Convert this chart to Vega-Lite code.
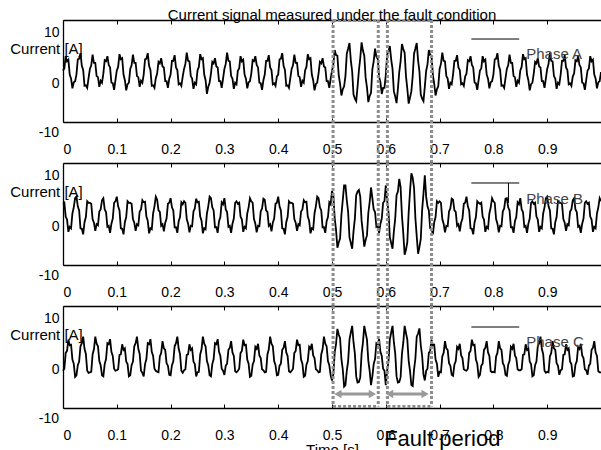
{
"$schema":"https://vega.github.io/schema/vega-lite/v6.json",
"padding":{"left":9,"top":7,"right":0,"bottom":0},
"background":"white",
"bounds":"flush",
"spacing":41,
"config":{"view":{"stroke":null},"font":"Liberation Sans",
"axis":{"grid":false,"domainColor":"black","domainWidth":1.3,"tickColor":"black","tickWidth":1,"labelColor":"black","labelFontSize":14,"labelFont":"Liberation Sans","titleFont":"Liberation Sans","titleColor":"black","titleFontWeight":"normal","titleFontSize":15}},
"datasets":{
"vl":[{"x":0.502},{"x":0.586},{"x":0.603},{"x":0.685}],
"hl":[{"x":0.502,"x2":0.586},{"x":0.603,"x2":0.685}],
"arr":[{"x":0.511,"x2":0.575},{"x":0.607,"x2":0.673}],
"heads":[{"x":0.511,"s":"triangle-left"},{"x":0.575,"s":"triangle-right"},{"x":0.607,"s":"triangle-left"},{"x":0.673,"s":"triangle-right"}],
"neg":[{"x":0,"v":-10,"label":"-10"}],
"sig":[
{"t":0,"a":2.6,"b":4.5,"c":-0.2},{"t":0.0025,"a":3.0,"b":4.7,"c":0.2},{"t":0.005,"a":5.4,"b":2.0,"c":3.3},{"t":0.0075,"a":4.4,"b":1.4,"c":3.7},{"t":0.01,"a":4.7,"b":-1.0,"c":5.9},{"t":0.0125,"a":1.8,"b":0.0,"c":4.8},{"t":0.015,"a":1.0,"b":-0.3,"c":4.9},{"t":0.0175,"a":-0.9,"b":2.6,"c":2.0},{"t":0.02,"a":0.3,"b":3.8,"c":1.2},{"t":0.0225,"a":0.5,"b":5.6,"c":-1.4},
{"t":0.025,"a":1.8,"b":5.9,"c":-1.1},{"t":0.0275,"a":4.8,"b":4.0,"c":0.9},{"t":0.03,"a":4.9,"b":3.2,"c":1.6},{"t":0.0325,"a":6.0,"b":-0.3,"c":4.6},{"t":0.035,"a":3.5,"b":-0.4,"c":5.2},{"t":0.0375,"a":2.7,"b":-1.5,"c":6.5},{"t":0.04,"a":-0.4,"b":0.9,"c":4.1},{"t":0.0425,"a":-0.3,"b":1.9,"c":3.1},{"t":0.045,"a":-0.8,"b":5.0,"c":-0.2},{"t":0.0475,"a":1.1,"b":4.7,"c":-0.6},
{"t":0.05,"a":2.9,"b":4.7,"c":-0.5},{"t":0.0525,"a":3.6,"b":4.5,"c":-0.4},{"t":0.055,"a":5.7,"b":1.5,"c":3.0},{"t":0.0575,"a":4.1,"b":0.8,"c":4.0},{"t":0.06,"a":4.1,"b":-0.8,"c":6.5},{"t":0.0625,"a":1.5,"b":0.5,"c":5.1},{"t":0.065,"a":1.3,"b":0.3,"c":4.6},{"t":0.0675,"a":-0.6,"b":3.0,"c":1.7},{"t":0.07,"a":0.6,"b":3.4,"c":0.9},{"t":0.0725,"a":0.2,"b":5.2,"c":-1.1},
{"t":0.075,"a":2.0,"b":5.6,"c":-1.3},{"t":0.0775,"a":4.6,"b":3.4,"c":1.1},{"t":0.08,"a":4.4,"b":2.9,"c":2.1},{"t":0.0825,"a":5.4,"b":0.0,"c":5.2},{"t":0.085,"a":3.7,"b":0.2,"c":5.0},{"t":0.0875,"a":3.2,"b":-1.2,"c":6.0},{"t":0.09,"a":0.2,"b":0.6,"c":3.5},{"t":0.0925,"a":0.1,"b":1.6,"c":2.7},{"t":0.095,"a":-1.2,"b":4.7,"c":0.2},{"t":0.0975,"a":0.7,"b":5.0,"c":-0.2},
{"t":0.1,"a":2.6,"b":5.9,"c":-0.1},{"t":0.1025,"a":3.3,"b":4.0,"c":0.1},{"t":0.105,"a":5.8,"b":3.2,"c":2.9},{"t":0.1075,"a":4.8,"b":-0.3,"c":3.0},{"t":0.11,"a":5.0,"b":-0.4,"c":5.0},{"t":0.1125,"a":1.8,"b":-1.5,"c":3.9},{"t":0.115,"a":0.7,"b":0.9,"c":4.2},{"t":0.1175,"a":-1.3,"b":1.9,"c":1.6},{"t":0.12,"a":-0.1,"b":5.0,"c":1.1},{"t":0.1225,"a":0.2,"b":4.7,"c":-1.3},
{"t":0.125,"a":2.9,"b":4.7,"c":-1.1},{"t":0.1275,"a":3.6,"b":4.5,"c":0.9},{"t":0.13,"a":5.7,"b":1.5,"c":1.6},{"t":0.1325,"a":4.1,"b":0.8,"c":4.6},{"t":0.135,"a":4.1,"b":-0.8,"c":5.2},{"t":0.1375,"a":1.5,"b":0.5,"c":6.5},{"t":0.14,"a":1.3,"b":0.3,"c":4.1},{"t":0.1425,"a":-0.6,"b":3.0,"c":3.1},{"t":0.145,"a":0.6,"b":3.4,"c":-0.2},{"t":0.1475,"a":0.2,"b":5.2,"c":-0.6},
{"t":0.15,"a":1.8,"b":4.8,"c":-1.3},{"t":0.1525,"a":4.8,"b":4.9,"c":1.1},{"t":0.155,"a":4.9,"b":2.0,"c":2.1},{"t":0.1575,"a":6.0,"b":1.2,"c":5.2},{"t":0.16,"a":3.5,"b":-1.3,"c":5.0},{"t":0.1625,"a":2.7,"b":-0.3,"c":6.0},{"t":0.165,"a":-0.4,"b":-0.5,"c":3.5},{"t":0.1675,"a":-0.3,"b":2.6,"c":2.7},{"t":0.17,"a":-0.8,"b":4.0,"c":0.2},{"t":0.1725,"a":1.1,"b":5.9,"c":-0.2},
{"t":0.175,"a":2.0,"b":5.3,"c":-0.4},{"t":0.1775,"a":4.3,"b":3.2,"c":-0.5},{"t":0.18,"a":4.0,"b":2.9,"c":2.6},{"t":0.1825,"a":5.0,"b":0.2,"c":3.3},{"t":0.185,"a":3.4,"b":0.5,"c":5.6},{"t":0.1875,"a":3.2,"b":-0.9,"c":4.2},{"t":0.19,"a":0.5,"b":0.8,"c":3.9},{"t":0.1925,"a":0.5,"b":1.6,"c":1.3},{"t":0.195,"a":-0.8,"b":4.5,"c":0.8},{"t":0.1975,"a":1.0,"b":4.7,"c":-1.0},
{"t":0.2,"a":1.8,"b":5.6,"c":-1.1},{"t":0.2025,"a":4.5,"b":3.8,"c":0.9},{"t":0.205,"a":4.5,"b":3.2,"c":1.6},{"t":0.2075,"a":5.6,"b":-0.1,"c":4.6},{"t":0.21,"a":3.2,"b":-0.1,"c":5.2},{"t":0.2125,"a":2.7,"b":-1.2,"c":6.5},{"t":0.215,"a":-0.1,"b":1.1,"c":4.1},{"t":0.2175,"a":0.1,"b":1.9,"c":3.1},{"t":0.22,"a":-0.4,"b":4.8,"c":-0.2},{"t":0.2225,"a":1.4,"b":4.4,"c":-0.6},
{"t":0.225,"a":2.9,"b":5.0,"c":-0.1},{"t":0.2275,"a":3.9,"b":4.7,"c":0.1},{"t":0.23,"a":6.1,"b":1.5,"c":2.9},{"t":0.2325,"a":4.5,"b":0.6,"c":3.0},{"t":0.235,"a":4.4,"b":-1.1,"c":5.0},{"t":0.2375,"a":1.5,"b":0.2,"c":3.9},{"t":0.24,"a":1.0,"b":0.1,"c":4.2},{"t":0.2425,"a":-1.0,"b":3.0,"c":1.6},{"t":0.245,"a":0.2,"b":3.6,"c":1.1},{"t":0.2475,"a":-0.1,"b":5.5,"c":-1.3},
{"t":0.25,"a":2.6,"b":4.8,"c":-0.5},{"t":0.2525,"a":3.3,"b":4.9,"c":-0.4},{"t":0.255,"a":5.8,"b":2.0,"c":3.0},{"t":0.2575,"a":4.8,"b":1.2,"c":4.0},{"t":0.26,"a":5.0,"b":-1.3,"c":6.5},{"t":0.2625,"a":1.8,"b":-0.3,"c":5.1},{"t":0.265,"a":0.7,"b":-0.5,"c":4.6},{"t":0.2675,"a":-2.0,"b":2.6,"c":1.7},{"t":0.27,"a":-0.6,"b":4.0,"c":0.9},{"t":0.2725,"a":0.2,"b":5.9,"c":-1.1},
{"t":0.275,"a":2.0,"b":5.6,"c":-1.3},{"t":0.2775,"a":4.3,"b":3.8,"c":1.1},{"t":0.28,"a":4.0,"b":3.2,"c":2.1},{"t":0.2825,"a":5.0,"b":-0.1,"c":5.2},{"t":0.285,"a":3.4,"b":-0.1,"c":5.0},{"t":0.2875,"a":3.2,"b":-1.2,"c":6.0},{"t":0.29,"a":0.5,"b":1.1,"c":3.5},{"t":0.2925,"a":0.5,"b":1.9,"c":2.7},{"t":0.295,"a":-0.8,"b":4.8,"c":0.2},{"t":0.2975,"a":1.0,"b":4.4,"c":-0.2},
{"t":0.3,"a":2.9,"b":5.6,"c":-1.0},{"t":0.3025,"a":3.9,"b":3.4,"c":0.8},{"t":0.305,"a":6.1,"b":2.9,"c":1.2},{"t":0.3075,"a":4.5,"b":0.0,"c":3.9},{"t":0.31,"a":4.4,"b":0.2,"c":4.3},{"t":0.3125,"a":1.5,"b":-1.2,"c":5.6},{"t":0.315,"a":1.0,"b":0.6,"c":3.4},{"t":0.3175,"a":-1.0,"b":1.6,"c":2.7},{"t":0.32,"a":0.2,"b":4.7,"c":-0.3},{"t":0.3225,"a":-0.1,"b":5.0,"c":-0.5},
{"t":0.325,"a":2.6,"b":4.5,"c":-0.2},{"t":0.3275,"a":3.0,"b":4.7,"c":0.2},{"t":0.33,"a":5.4,"b":2.0,"c":3.3},{"t":0.3325,"a":4.4,"b":1.4,"c":3.7},{"t":0.335,"a":4.7,"b":-1.0,"c":5.9},{"t":0.3375,"a":1.8,"b":0.0,"c":4.8},{"t":0.34,"a":1.0,"b":-0.3,"c":4.9},{"t":0.3425,"a":-0.9,"b":2.6,"c":2.0},{"t":0.345,"a":0.3,"b":3.8,"c":1.2},{"t":0.3475,"a":0.5,"b":5.6,"c":-1.4},
{"t":0.35,"a":2.0,"b":5.0,"c":-1.2},{"t":0.3525,"a":4.6,"b":4.7,"c":1.0},{"t":0.355,"a":4.4,"b":1.5,"c":1.7},{"t":0.3575,"a":5.4,"b":0.6,"c":4.5},{"t":0.36,"a":3.7,"b":-1.1,"c":4.1},{"t":0.3625,"a":3.2,"b":0.2,"c":5.1},{"t":0.365,"a":0.2,"b":0.1,"c":2.8},{"t":0.3675,"a":0.1,"b":3.0,"c":2.3},{"t":0.37,"a":-1.2,"b":3.6,"c":0.1},{"t":0.3725,"a":0.7,"b":5.5,"c":-0.1},
{"t":0.375,"a":1.8,"b":5.3,"c":-0.5},{"t":0.3775,"a":4.5,"b":3.2,"c":-0.4},{"t":0.38,"a":4.5,"b":2.9,"c":3.0},{"t":0.3825,"a":5.6,"b":0.2,"c":4.0},{"t":0.385,"a":3.2,"b":0.5,"c":6.5},{"t":0.3875,"a":2.7,"b":-0.9,"c":5.1},{"t":0.39,"a":-0.1,"b":0.8,"c":4.6},{"t":0.3925,"a":0.1,"b":1.6,"c":1.7},{"t":0.395,"a":-0.4,"b":4.5,"c":0.9},{"t":0.3975,"a":1.4,"b":4.7,"c":-1.1},
{"t":0.4,"a":1.8,"b":5.9,"c":-1.0},{"t":0.4025,"a":4.8,"b":4.0,"c":0.8},{"t":0.405,"a":4.9,"b":3.2,"c":1.2},{"t":0.4075,"a":6.0,"b":-0.3,"c":3.9},{"t":0.41,"a":3.5,"b":-0.4,"c":4.3},{"t":0.4125,"a":2.7,"b":-1.5,"c":5.6},{"t":0.415,"a":-0.4,"b":0.9,"c":3.4},{"t":0.4175,"a":-0.3,"b":1.9,"c":2.7},{"t":0.42,"a":-0.8,"b":5.0,"c":-0.3},{"t":0.4225,"a":1.1,"b":4.7,"c":-0.5},
{"t":0.425,"a":2.9,"b":4.7,"c":-0.2},{"t":0.4275,"a":3.6,"b":4.5,"c":0.2},{"t":0.43,"a":5.7,"b":1.5,"c":3.3},{"t":0.4325,"a":4.1,"b":0.8,"c":3.7},{"t":0.435,"a":4.1,"b":-0.8,"c":5.9},{"t":0.4375,"a":1.5,"b":0.5,"c":4.8},{"t":0.44,"a":1.3,"b":0.3,"c":4.9},{"t":0.4425,"a":-0.6,"b":3.0,"c":2.0},{"t":0.445,"a":0.6,"b":3.4,"c":1.2},{"t":0.4475,"a":0.2,"b":5.2,"c":-1.4},
{"t":0.45,"a":2.6,"b":4.8,"c":-1.2},{"t":0.4525,"a":3.3,"b":4.9,"c":1.0},{"t":0.455,"a":5.8,"b":2.0,"c":1.7},{"t":0.4575,"a":4.8,"b":1.2,"c":4.5},{"t":0.46,"a":5.0,"b":-1.3,"c":4.1},{"t":0.4625,"a":1.8,"b":-0.3,"c":5.1},{"t":0.465,"a":0.7,"b":-0.5,"c":2.8},{"t":0.4675,"a":-1.3,"b":2.6,"c":2.3},{"t":0.47,"a":-0.1,"b":4.0,"c":0.1},{"t":0.4725,"a":0.2,"b":5.9,"c":-0.1},
{"t":0.475,"a":2.0,"b":5.6,"c":-0.5},{"t":0.4775,"a":4.3,"b":3.8,"c":-0.4},{"t":0.48,"a":4.0,"b":3.2,"c":3.0},{"t":0.4825,"a":5.0,"b":-0.1,"c":4.0},{"t":0.485,"a":3.4,"b":-0.1,"c":6.5},{"t":0.4875,"a":3.2,"b":-1.2,"c":5.1},{"t":0.49,"a":0.5,"b":1.1,"c":4.6},{"t":0.4925,"a":0.5,"b":1.9,"c":1.7},{"t":0.495,"a":-0.8,"b":4.8,"c":0.9},{"t":0.4975,"a":1.0,"b":4.4,"c":-1.1},
{"t":0.5,"a":2.5,"b":7.0,"c":-2.1},{"t":0.5025,"a":3.8,"b":6.1,"c":-0.9},{"t":0.505,"a":6.6,"b":1.7,"c":3.4},{"t":0.5075,"a":5.6,"b":-0.6,"c":5.0},{"t":0.51,"a":5.5,"b":-4.1,"c":8.0},{"t":0.5125,"a":1.7,"b":-3.1,"c":6.9},{"t":0.515,"a":0.0,"b":-2.3,"c":6.2},{"t":0.5175,"a":-2.3,"b":2.3,"c":2.1},{"t":0.52,"a":-1.1,"b":5.2,"c":0.1},{"t":0.5225,"a":-0.5,"b":8.1,"c":-3.3},
{"t":0.525,"a":1.5,"b":8.1,"c":-3.0},{"t":0.5275,"a":5.9,"b":5.2,"c":-0.2},{"t":0.53,"a":6.9,"b":2.9,"c":1.7},{"t":0.5325,"a":8.0,"b":-2.1,"c":5.9},{"t":0.535,"a":4.6,"b":-3.2,"c":7.3},{"t":0.5375,"a":2.4,"b":-4.3,"c":8.6},{"t":0.54,"a":-2.1,"b":-0.9,"c":5.4},{"t":0.5425,"a":-2.9,"b":1.6,"c":3.2},{"t":0.545,"a":-3.4,"b":6.2,"c":-1.3},{"t":0.5475,"a":-0.6,"b":6.9,"c":-2.5},
{"t":0.55,"a":2.6,"b":7.2,"c":-2.4},{"t":0.5525,"a":5.0,"b":5.9,"c":-1.5},{"t":0.555,"a":8.1,"b":1.2,"c":3.1},{"t":0.5575,"a":6.5,"b":-1.2,"c":5.3},{"t":0.56,"a":5.5,"b":-3.9,"c":8.6},{"t":0.5625,"a":1.2,"b":-2.6,"c":7.2},{"t":0.565,"a":-0.7,"b":-1.7,"c":5.9},{"t":0.5675,"a":-3.6,"b":2.7,"c":1.8},{"t":0.57,"a":-2.4,"b":4.8,"c":-0.2},{"t":0.5725,"a":-1.8,"b":7.7,"c":-3.0},
{"t":0.575,"a":2.8,"b":5.6,"c":-1.3},{"t":0.5775,"a":4.4,"b":3.4,"c":1.1},{"t":0.58,"a":6.9,"b":2.9,"c":2.1},{"t":0.5825,"a":5.3,"b":0.0,"c":5.2},{"t":0.585,"a":4.9,"b":0.2,"c":5.0},{"t":0.5875,"a":1.4,"b":-1.2,"c":6.0},{"t":0.59,"a":0.3,"b":0.6,"c":3.5},{"t":0.5925,"a":-2.0,"b":1.6,"c":2.7},{"t":0.595,"a":-0.8,"b":4.7,"c":0.2},{"t":0.5975,"a":-0.8,"b":5.0,"c":-0.2},
{"t":0.6,"a":1.7,"b":8.1,"c":-3.0},{"t":0.6025,"a":5.7,"b":5.2,"c":-0.2},{"t":0.605,"a":6.4,"b":2.9,"c":1.7},{"t":0.6075,"a":7.4,"b":-2.1,"c":5.9},{"t":0.61,"a":4.8,"b":-3.2,"c":7.3},{"t":0.6125,"a":2.9,"b":-4.3,"c":8.6},{"t":0.615,"a":-1.5,"b":-0.9,"c":5.4},{"t":0.6175,"a":-2.5,"b":1.6,"c":3.2},{"t":0.62,"a":-3.8,"b":6.2,"c":-1.3},{"t":0.6225,"a":-1.0,"b":6.9,"c":-2.5},
{"t":0.625,"a":2.3,"b":9.4,"c":-2.4},{"t":0.6275,"a":4.4,"b":7.8,"c":-1.5},{"t":0.63,"a":7.8,"b":2.2,"c":3.1},{"t":0.6325,"a":6.8,"b":-1.3,"c":5.3},{"t":0.635,"a":6.1,"b":-5.5,"c":8.6},{"t":0.6375,"a":1.5,"b":-4.5,"c":7.2},{"t":0.64,"a":-1.0,"b":-3.0,"c":5.9},{"t":0.6425,"a":-3.9,"b":2.8,"c":1.8},{"t":0.645,"a":-2.7,"b":6.9,"c":-0.2},{"t":0.6475,"a":-1.5,"b":10.5,"c":-3.0},
{"t":0.65,"a":1.5,"b":9.6,"c":-3.2},{"t":0.6525,"a":5.9,"b":7.6,"c":0.0},{"t":0.655,"a":6.9,"b":1.7,"c":2.2},{"t":0.6575,"a":8.0,"b":-1.9,"c":6.5},{"t":0.66,"a":4.6,"b":-5.3,"c":7.1},{"t":0.6625,"a":2.4,"b":-4.0,"c":8.1},{"t":0.665,"a":-2.1,"b":-2.4,"c":4.8},{"t":0.6675,"a":-2.9,"b":3.2,"c":2.8},{"t":0.67,"a":-3.4,"b":6.5,"c":-0.9},{"t":0.6725,"a":-0.6,"b":10.1,"c":-2.1},
{"t":0.675,"a":2.5,"b":5.9,"c":-0.2},{"t":0.6775,"a":3.8,"b":4.0,"c":0.2},{"t":0.68,"a":6.6,"b":3.2,"c":3.3},{"t":0.6825,"a":5.6,"b":-0.3,"c":3.7},{"t":0.685,"a":5.5,"b":-0.4,"c":5.9},{"t":0.6875,"a":1.7,"b":-1.5,"c":4.8},{"t":0.69,"a":0.0,"b":0.9,"c":4.9},{"t":0.6925,"a":-2.3,"b":1.9,"c":2.0},{"t":0.695,"a":-1.1,"b":5.0,"c":1.2},{"t":0.6975,"a":-0.5,"b":4.7,"c":-1.4},
{"t":0.7,"a":2.9,"b":5.0,"c":-0.4},{"t":0.7025,"a":3.9,"b":4.7,"c":-0.5},{"t":0.705,"a":6.1,"b":1.5,"c":2.6},{"t":0.7075,"a":4.5,"b":0.6,"c":3.3},{"t":0.71,"a":4.4,"b":-1.1,"c":5.6},{"t":0.7125,"a":1.5,"b":0.2,"c":4.2},{"t":0.715,"a":1.0,"b":0.1,"c":3.9},{"t":0.7175,"a":-1.0,"b":3.0,"c":1.3},{"t":0.72,"a":0.2,"b":3.6,"c":0.8},{"t":0.7225,"a":-0.1,"b":5.5,"c":-1.0},
{"t":0.725,"a":1.8,"b":5.3,"c":-1.2},{"t":0.7275,"a":4.5,"b":3.2,"c":1.0},{"t":0.73,"a":4.5,"b":2.9,"c":1.7},{"t":0.7325,"a":5.6,"b":0.2,"c":4.5},{"t":0.735,"a":3.2,"b":0.5,"c":4.1},{"t":0.7375,"a":2.7,"b":-0.9,"c":5.1},{"t":0.74,"a":-0.1,"b":0.8,"c":2.8},{"t":0.7425,"a":0.1,"b":1.6,"c":2.3},{"t":0.745,"a":-0.4,"b":4.5,"c":0.1},{"t":0.7475,"a":1.4,"b":4.7,"c":-0.1},
{"t":0.75,"a":2.0,"b":5.9,"c":-0.2},{"t":0.7525,"a":4.6,"b":4.0,"c":0.2},{"t":0.755,"a":4.4,"b":3.2,"c":3.3},{"t":0.7575,"a":5.4,"b":-0.3,"c":3.7},{"t":0.76,"a":3.7,"b":-0.4,"c":5.9},{"t":0.7625,"a":3.2,"b":-1.5,"c":4.8},{"t":0.765,"a":0.2,"b":0.9,"c":4.9},{"t":0.7675,"a":0.1,"b":1.9,"c":2.0},{"t":0.77,"a":-1.2,"b":5.0,"c":1.2},{"t":0.7725,"a":0.7,"b":4.7,"c":-1.4},
{"t":0.775,"a":2.6,"b":4.5,"c":-1.0},{"t":0.7775,"a":3.0,"b":4.7,"c":0.8},{"t":0.78,"a":5.4,"b":2.0,"c":1.2},{"t":0.7825,"a":4.4,"b":1.4,"c":3.9},{"t":0.785,"a":4.7,"b":-1.0,"c":4.3},{"t":0.7875,"a":1.8,"b":0.0,"c":5.6},{"t":0.79,"a":1.0,"b":-0.3,"c":3.4},{"t":0.7925,"a":-0.9,"b":2.6,"c":2.7},{"t":0.795,"a":0.3,"b":3.8,"c":-0.3},{"t":0.7975,"a":0.5,"b":5.6,"c":-0.5},
{"t":0.8,"a":1.8,"b":5.0,"c":-0.4},{"t":0.8025,"a":4.8,"b":4.7,"c":-0.5},{"t":0.805,"a":4.9,"b":1.5,"c":2.6},{"t":0.8075,"a":6.0,"b":0.6,"c":3.3},{"t":0.81,"a":3.5,"b":-1.1,"c":5.6},{"t":0.8125,"a":2.7,"b":0.2,"c":4.2},{"t":0.815,"a":-0.4,"b":0.1,"c":3.9},{"t":0.8175,"a":-0.3,"b":3.0,"c":1.3},{"t":0.82,"a":-0.8,"b":3.6,"c":0.8},{"t":0.8225,"a":1.1,"b":5.5,"c":-1.0},
{"t":0.825,"a":2.9,"b":5.6,"c":-1.2},{"t":0.8275,"a":3.6,"b":3.8,"c":1.0},{"t":0.83,"a":5.7,"b":3.2,"c":1.7},{"t":0.8325,"a":4.1,"b":-0.1,"c":4.5},{"t":0.835,"a":4.1,"b":-0.1,"c":4.1},{"t":0.8375,"a":1.5,"b":-1.2,"c":5.1},{"t":0.84,"a":1.3,"b":1.1,"c":2.8},{"t":0.8425,"a":-0.6,"b":1.9,"c":2.3},{"t":0.845,"a":0.6,"b":4.8,"c":0.1},{"t":0.8475,"a":0.2,"b":4.4,"c":-0.1},
{"t":0.85,"a":2.6,"b":5.6,"c":-0.1},{"t":0.8525,"a":3.3,"b":3.4,"c":0.1},{"t":0.855,"a":5.8,"b":2.9,"c":2.9},{"t":0.8575,"a":4.8,"b":0.0,"c":3.0},{"t":0.86,"a":5.0,"b":0.2,"c":5.0},{"t":0.8625,"a":1.8,"b":-1.2,"c":3.9},{"t":0.865,"a":0.7,"b":0.6,"c":4.2},{"t":0.8675,"a":-1.3,"b":1.6,"c":1.6},{"t":0.87,"a":-0.1,"b":4.7,"c":1.1},{"t":0.8725,"a":0.2,"b":5.0,"c":-1.3},
{"t":0.875,"a":2.0,"b":4.5,"c":-1.1},{"t":0.8775,"a":4.3,"b":4.7,"c":0.9},{"t":0.88,"a":4.0,"b":2.0,"c":1.6},{"t":0.8825,"a":5.0,"b":1.4,"c":4.6},{"t":0.885,"a":3.4,"b":-1.0,"c":5.2},{"t":0.8875,"a":3.2,"b":0.0,"c":6.5},{"t":0.89,"a":0.5,"b":-0.3,"c":4.1},{"t":0.8925,"a":0.5,"b":2.6,"c":3.1},{"t":0.895,"a":-0.8,"b":3.8,"c":-0.2},{"t":0.8975,"a":1.0,"b":5.6,"c":-0.6},
{"t":0.9,"a":2.9,"b":5.9,"c":-0.4},{"t":0.9025,"a":3.9,"b":4.0,"c":-0.5},{"t":0.905,"a":6.1,"b":3.2,"c":2.6},{"t":0.9075,"a":4.5,"b":-0.3,"c":3.3},{"t":0.91,"a":4.4,"b":-0.4,"c":5.6},{"t":0.9125,"a":1.5,"b":-1.5,"c":4.2},{"t":0.915,"a":1.0,"b":0.9,"c":3.9},{"t":0.9175,"a":-1.0,"b":1.9,"c":1.3},{"t":0.92,"a":0.2,"b":5.0,"c":0.8},{"t":0.9225,"a":-0.1,"b":4.7,"c":-1.0},
{"t":0.925,"a":1.8,"b":4.7,"c":-0.1},{"t":0.9275,"a":4.5,"b":4.5,"c":0.1},{"t":0.93,"a":4.5,"b":1.5,"c":2.9},{"t":0.9325,"a":5.6,"b":0.8,"c":3.0},{"t":0.935,"a":3.2,"b":-0.8,"c":5.0},{"t":0.9375,"a":2.7,"b":0.5,"c":3.9},{"t":0.94,"a":-0.1,"b":0.3,"c":4.2},{"t":0.9425,"a":0.1,"b":3.0,"c":1.6},{"t":0.945,"a":-0.4,"b":3.4,"c":1.1},{"t":0.9475,"a":1.4,"b":5.2,"c":-1.3},
{"t":0.95,"a":2.0,"b":5.6,"c":-1.2},{"t":0.9525,"a":4.6,"b":3.4,"c":1.0},{"t":0.955,"a":4.4,"b":2.9,"c":1.7},{"t":0.9575,"a":5.4,"b":0.0,"c":4.5},{"t":0.96,"a":3.7,"b":0.2,"c":4.1},{"t":0.9625,"a":3.2,"b":-1.2,"c":5.1},{"t":0.965,"a":0.2,"b":0.6,"c":2.8},{"t":0.9675,"a":0.1,"b":1.6,"c":2.3},{"t":0.97,"a":-1.2,"b":4.7,"c":0.1},{"t":0.9725,"a":0.7,"b":5.0,"c":-0.1},
{"t":0.975,"a":2.6,"b":4.5,"c":-1.0},{"t":0.9775,"a":3.0,"b":4.7,"c":0.8},{"t":0.98,"a":5.4,"b":2.0,"c":1.2},{"t":0.9825,"a":4.4,"b":1.4,"c":3.9},{"t":0.985,"a":4.7,"b":-1.0,"c":4.3},{"t":0.9875,"a":1.8,"b":0.0,"c":5.6},{"t":0.99,"a":1.0,"b":-0.3,"c":3.4},{"t":0.9925,"a":-0.9,"b":2.6,"c":2.7},{"t":0.995,"a":0.3,"b":3.8,"c":-0.3},{"t":0.9975,"a":0.5,"b":5.6,"c":-0.5},
{"t":1,"a":2.3,"b":5.0,"c":-0.5}
]},
"vconcat":[
{"width":538,"height":102,
"title":{"text":"Current signal measured under the fault condition","fontSize":15,"fontWeight":"normal","font":"Liberation Sans","color":"black","baseline":"alphabetic","offset":-16,"anchor":"middle","frame":"group"},
"resolve":{"axis":{"x":"independent","y":"independent"}},
"layer":[
{"data":{"name":"sig"},"mark":{"type":"line","color":"black","strokeWidth":1.8},
"encoding":{"x":{"field":"t","type":"quantitative","scale":{"domain":[0,1],"nice":false,"zero":false},"axis":{"orient":"bottom","values":[0,0.1,0.2,0.3,0.4,0.5,0.6,0.7,0.8,0.9],"format":"~g","tickSize":-4,"labelPadding":24,"title":null}},
"y":{"field":"a","type":"quantitative","scale":{"domain":[-7.5,12.5],"nice":false,"zero":false},"axis":{"values":[-10,0,10],"ticks":false,"labelPadding":4,"labelFlush":false,"labelBaseline":"middle","title":"Current [A]","titleAngle":0,"titleX":-17,"titleY":28,"titleAlign":"center","titleBaseline":"middle"}}}},
{"data":{"name":"neg"},"mark":{"type":"text","align":"right","baseline":"middle","dx":-4,"dy":-2,"fontSize":14,"color":"black","font":"Liberation Sans","clip":false},
"encoding":{"x":{"field":"x","type":"quantitative","axis":null},"y":{"field":"v","type":"quantitative","axis":null},"text":{"field":"label"}}},
{"data":{"values":[{"x":0.759,"x2":0.848,"y":8.77}]},"mark":{"type":"rule","color":"black","strokeWidth":1},
"encoding":{"x":{"field":"x","type":"quantitative","scale":{"domain":[0,1],"nice":false,"zero":false},"axis":{"orient":"top","labels":false,"values":[0,0.1,0.2,0.3,0.4,0.5,0.6,0.7,0.8,0.9],"tickSize":-4,"title":null}},"x2":{"field":"x2"},"y":{"field":"y","type":"quantitative","axis":null}}},
{"data":{"values":[{"x":0.861,"y":5.83,"label":"Phase A"}]},"mark":{"type":"text","align":"left","baseline":"middle","fontSize":15,"color":"#444444","font":"Liberation Sans"},
"encoding":{"x":{"field":"x","type":"quantitative","axis":null},"y":{"field":"y","type":"quantitative","axis":null},"text":{"field":"label"}}},
{"data":{"name":"vl"},"mark":{"type":"rule","color":"#8c8c8c","strokeWidth":3,"strokeDash":[3,2],"clip":false},
"encoding":{"x":{"field":"x","type":"quantitative","axis":null},"y":{"datum":12.5,"type":"quantitative","axis":null},"y2":{"datum":-15.54}}},
{"data":{"name":"hl"},"mark":{"type":"rule","color":"#8c8c8c","strokeWidth":3,"strokeDash":[3,2],"clip":false},
"encoding":{"x":{"field":"x","type":"quantitative","axis":null},"x2":{"field":"x2"},"y":{"datum":12.4,"type":"quantitative","axis":null}}}
]},
{"width":538,"height":102,
"resolve":{"axis":{"x":"independent","y":"independent"}},
"layer":[
{"data":{"name":"sig"},"mark":{"type":"line","color":"black","strokeWidth":1.8},
"encoding":{"x":{"field":"t","type":"quantitative","scale":{"domain":[0,1],"nice":false,"zero":false},"axis":{"orient":"bottom","values":[0,0.1,0.2,0.3,0.4,0.5,0.6,0.7,0.8,0.9],"format":"~g","tickSize":-4,"labelPadding":24,"title":null}},
"y":{"field":"b","type":"quantitative","scale":{"domain":[-7.5,12.5],"nice":false,"zero":false},"axis":{"values":[-10,0,10],"ticks":false,"labelPadding":4,"labelFlush":false,"labelBaseline":"middle","title":"Current [A]","titleAngle":0,"titleX":-17,"titleY":28,"titleAlign":"center","titleBaseline":"middle"}}}},
{"data":{"name":"neg"},"mark":{"type":"text","align":"right","baseline":"middle","dx":-4,"dy":-2,"fontSize":14,"color":"black","font":"Liberation Sans","clip":false},
"encoding":{"x":{"field":"x","type":"quantitative","axis":null},"y":{"field":"v","type":"quantitative","axis":null},"text":{"field":"label"}}},
{"data":{"values":[{"x":0.759,"x2":0.848,"y":8.58}]},"mark":{"type":"rule","color":"black","strokeWidth":1},
"encoding":{"x":{"field":"x","type":"quantitative","scale":{"domain":[0,1],"nice":false,"zero":false},"axis":{"orient":"top","labels":false,"values":[0,0.1,0.2,0.3,0.4,0.5,0.6,0.7,0.8,0.9],"tickSize":-4,"title":null}},"x2":{"field":"x2"},"y":{"field":"y","type":"quantitative","axis":null}}},
{"data":{"values":[{"x":0.828,"y":8.58,"y2":4.66}]},"mark":{"type":"rule","color":"black","strokeWidth":1},
"encoding":{"x":{"field":"x","type":"quantitative","axis":null},"y":{"field":"y","type":"quantitative","axis":null},"y2":{"field":"y2"}}},
{"data":{"values":[{"x":0.861,"y":5.44,"label":"Phase B"}]},"mark":{"type":"text","align":"left","baseline":"middle","fontSize":15,"color":"#444444","font":"Liberation Sans"},
"encoding":{"x":{"field":"x","type":"quantitative","axis":null},"y":{"field":"y","type":"quantitative","axis":null},"text":{"field":"label"}}},
{"data":{"name":"vl"},"mark":{"type":"rule","color":"#8c8c8c","strokeWidth":3,"strokeDash":[3,2],"clip":false},
"encoding":{"x":{"field":"x","type":"quantitative","axis":null},"y":{"datum":12.5,"type":"quantitative","axis":null},"y2":{"datum":-15.54}}}
]},
{"width":538,"height":102,
"resolve":{"axis":{"x":"independent","y":"independent"}},
"layer":[
{"data":{"name":"sig"},"mark":{"type":"line","color":"black","strokeWidth":1.8},
"encoding":{"x":{"field":"t","type":"quantitative","scale":{"domain":[0,1],"nice":false,"zero":false},"axis":{"orient":"bottom","values":[0,0.1,0.2,0.3,0.4,0.5,0.6,0.7,0.8,0.9],"format":"~g","tickSize":-4,"labelPadding":24,"title":"Time [s]","titlePadding":0}},
"y":{"field":"c","type":"quantitative","scale":{"domain":[-7.5,12.5],"nice":false,"zero":false},"axis":{"values":[-10,0,10],"ticks":false,"labelPadding":4,"labelFlush":false,"labelBaseline":"middle","title":"Current [A]","titleAngle":0,"titleX":-17,"titleY":28,"titleAlign":"center","titleBaseline":"middle"}}}},
{"data":{"name":"neg"},"mark":{"type":"text","align":"right","baseline":"middle","dx":-4,"dy":-2,"fontSize":14,"color":"black","font":"Liberation Sans","clip":false},
"encoding":{"x":{"field":"x","type":"quantitative","axis":null},"y":{"field":"v","type":"quantitative","axis":null},"text":{"field":"label"}}},
{"data":{"values":[{"x":0.759,"x2":0.848,"y":8.38}]},"mark":{"type":"rule","color":"black","strokeWidth":1},
"encoding":{"x":{"field":"x","type":"quantitative","scale":{"domain":[0,1],"nice":false,"zero":false},"axis":{"orient":"top","labels":false,"values":[0,0.1,0.2,0.3,0.4,0.5,0.6,0.7,0.8,0.9],"tickSize":-4,"title":null}},"x2":{"field":"x2"},"y":{"field":"y","type":"quantitative","axis":null}}},
{"data":{"values":[{"x":0.861,"y":5.44,"label":"Phase C"}]},"mark":{"type":"text","align":"left","baseline":"middle","fontSize":15,"color":"#444444","font":"Liberation Sans"},
"encoding":{"x":{"field":"x","type":"quantitative","axis":null},"y":{"field":"y","type":"quantitative","axis":null},"text":{"field":"label"}}},
{"data":{"name":"vl"},"mark":{"type":"rule","color":"#8c8c8c","strokeWidth":3,"strokeDash":[3,2],"clip":false},
"encoding":{"x":{"field":"x","type":"quantitative","axis":null},"y":{"datum":12.5,"type":"quantitative","axis":null},"y2":{"datum":-7.2}}},
{"data":{"name":"hl"},"mark":{"type":"rule","color":"#8c8c8c","strokeWidth":3,"strokeDash":[3,2],"clip":false},
"encoding":{"x":{"field":"x","type":"quantitative","axis":null},"x2":{"field":"x2"},"y":{"datum":-7.2,"type":"quantitative","axis":null}}},
{"data":{"name":"arr"},"mark":{"type":"rule","color":"#999999","strokeWidth":3,"clip":false},
"encoding":{"x":{"field":"x","type":"quantitative","axis":null},"x2":{"field":"x2"},"y":{"datum":-4.75,"type":"quantitative","axis":null}}},
{"data":{"name":"heads"},"mark":{"type":"point","filled":true,"color":"#999999","size":70,"opacity":1,"clip":false},
"encoding":{"x":{"field":"x","type":"quantitative","axis":null},"y":{"datum":-4.75,"type":"quantitative","axis":null},"shape":{"field":"s","type":"nominal","scale":null}}},
{"data":{"values":[{"x":0.597,"y":-14.95,"label":"Fault period"}]},"mark":{"type":"text","align":"left","baseline":"alphabetic","fontSize":22,"color":"black","font":"Liberation Sans"},
"encoding":{"x":{"field":"x","type":"quantitative","axis":null},"y":{"field":"y","type":"quantitative","axis":null},"text":{"field":"label"}}}
]}
]
}
